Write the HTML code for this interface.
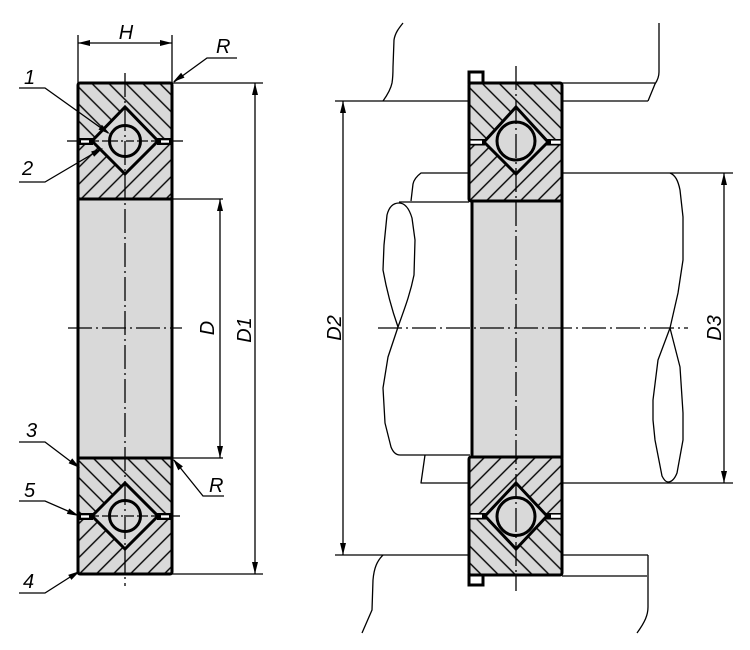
<!DOCTYPE html>
<html><head><meta charset="utf-8"><style>
html,body{margin:0;padding:0;background:#fff;}
svg{display:block;}
text{font-family:"Liberation Sans",sans-serif;font-style:italic;font-size:20px;fill:#000;}
</style></head><body>
<svg width="750" height="650" viewBox="0 0 750 650" xmlns="http://www.w3.org/2000/svg">
<defs>
<pattern id="hA" patternUnits="userSpaceOnUse" width="12" height="12" patternTransform="rotate(-45)"><line x1="6" y1="-1" x2="6" y2="13" stroke="#000" stroke-width="1.4"/></pattern>
<pattern id="hB" patternUnits="userSpaceOnUse" width="12" height="12" patternTransform="rotate(45)"><line x1="6" y1="-1" x2="6" y2="13" stroke="#000" stroke-width="1.4"/></pattern>
</defs>
<rect width="750" height="650" fill="#fff"/>

<!-- ============ LEFT VIEW ============ -->
<!-- bore -->
<rect x="78" y="199" width="94" height="259" fill="#d9d9d9" stroke="#000" stroke-width="3"/>
<!-- upper ring -->
<rect x="78" y="83" width="94" height="116" fill="#d9d9d9"/>
<polygon points="78,83 172,83 172,141 158,141 125,107 92,141 78,141" fill="url(#hA)"/>
<polygon points="78,141 92,141 125,174 158,141 172,141 172,199 78,199" fill="url(#hB)"/>
<rect x="78" y="138" width="15" height="7" fill="#000"/><rect x="81" y="140.3" width="8" height="2.4" fill="#fff"/>
<rect x="157" y="138" width="15" height="7" fill="#000"/><rect x="161" y="140.3" width="8" height="2.4" fill="#fff"/>
<polygon points="125,107 158,141 125,174 92,141" fill="#d9d9d9" stroke="#000" stroke-width="3" stroke-linejoin="miter"/>
<circle cx="125" cy="141" r="15.5" fill="#d9d9d9" stroke="#000" stroke-width="3"/>
<rect x="78" y="83" width="94" height="116" rx="2" fill="none" stroke="#000" stroke-width="3"/>
<!-- lower ring -->
<rect x="78" y="458" width="94" height="116" fill="#d9d9d9"/>
<polygon points="78,458 172,458 172,516 158,516 125,483 92,516 78,516" fill="url(#hA)"/>
<polygon points="78,516 92,516 125,549 158,516 172,516 172,574 78,574" fill="url(#hB)"/>
<rect x="78" y="513" width="15" height="7" fill="#000"/><rect x="81" y="515.3" width="8" height="2.4" fill="#fff"/>
<rect x="157" y="513" width="15" height="7" fill="#000"/><rect x="161" y="515.3" width="8" height="2.4" fill="#fff"/>
<polygon points="125,483 158,516 125,549 92,516" fill="#d9d9d9" stroke="#000" stroke-width="3"/>
<circle cx="125" cy="516" r="15.5" fill="#d9d9d9" stroke="#000" stroke-width="3"/>
<rect x="78" y="458" width="94" height="116" rx="2" fill="none" stroke="#000" stroke-width="3"/>

<!-- centre lines left -->
<g stroke="#000" stroke-width="1.3" fill="none" stroke-dasharray="24 4 2 4">
<line x1="125" y1="73" x2="125" y2="586"/>
<line x1="68" y1="328" x2="182" y2="328"/>
</g>
<g stroke="#000" stroke-width="1.3" fill="none">
<line x1="67" y1="141" x2="78" y2="141"/><line x1="172" y1="141" x2="183" y2="141"/>
<line x1="172" y1="516" x2="180" y2="516"/>
<line x1="93" y1="141" x2="108" y2="141" stroke-dasharray="6 3"/><line x1="142" y1="141" x2="157" y2="141" stroke-dasharray="6 3"/>
<line x1="93" y1="516" x2="108" y2="516" stroke-dasharray="6 3"/><line x1="142" y1="516" x2="157" y2="516" stroke-dasharray="6 3"/>
<line x1="110" y1="141" x2="140" y2="141" stroke-dasharray="8 3 2 3"/>
<line x1="110" y1="516" x2="140" y2="516" stroke-dasharray="8 3 2 3"/>
</g>

<!-- dimensions left -->
<g stroke="#000" stroke-width="1.3" fill="none">
<line x1="78" y1="35" x2="78" y2="83"/><line x1="172" y1="35" x2="172" y2="83"/>
<line x1="78" y1="43" x2="172" y2="43"/>
<line x1="172" y1="83" x2="263" y2="83"/><line x1="172" y1="574" x2="263" y2="574"/>
<line x1="255" y1="83" x2="255" y2="574"/>
<line x1="172" y1="199" x2="223" y2="199"/><line x1="172" y1="458" x2="223" y2="458"/>
<line x1="220" y1="199" x2="220" y2="458"/>
<!-- leaders -->
<polyline points="237,58 207,58 174,82"/>
<polyline points="19,88 45,88 108,133"/>
<polyline points="19,182 45,182 101,149"/>
<polyline points="19,442 45,442 78,467"/>
<polyline points="19,501 45,501 77,515"/>
<polyline points="19,593 45,593 78,572"/>
<polyline points="224,496 203,496 174,460"/>
</g>
<g fill="#000">
<polygon points="78,43 90,40 90,46"/><polygon points="172,43 160,40 160,46"/>
<polygon points="255,83 252,95 258,95"/><polygon points="255,574 252,562 258,562"/>
<polygon points="220,199 217,211 223,211"/><polygon points="220,458 217,446 223,446"/>
<polygon points="173,82 184.5,77.6 181.1,72.7"/>
<polygon points="110,134 98.5,129.6 101.9,124.7"/>
<polygon points="103,148 94.1,156.7 91.1,151.5"/>
<polygon points="80,468 68.6,463.2 72.2,458.4"/>
<polygon points="79,516 66.8,513.9 69.2,508.5"/>
<polygon points="80,571 71.4,579.9 68.2,574.9"/>
<polygon points="173,459 182.9,466.4 178.3,470.2"/>
</g>
<text x="126" y="39" text-anchor="middle">H</text>
<text x="216" y="53">R</text>
<text x="24" y="84">1</text>
<text x="22" y="175">2</text>
<text x="26" y="437">3</text>
<text x="24" y="497">5</text>
<text x="23" y="588">4</text>
<text x="209" y="492">R</text>
<text transform="translate(214,328) rotate(-90)" text-anchor="middle">D</text>
<text transform="translate(251,330) rotate(-90)" text-anchor="middle">D1</text>

<!-- ============ RIGHT VIEW ============ -->
<!-- housing / shaft thin lines -->
<g stroke="#000" stroke-width="1.3" fill="none" stroke-linejoin="round">
<line x1="335" y1="101" x2="469" y2="101"/>
<path d="M383,101 C388,94 391,88 392,83 C393,77 393,70 393,67 L394,40 C395,33 399,28 403,23"/>
<line x1="562" y1="83" x2="655" y2="83"/>
<line x1="562" y1="101" x2="648" y2="101"/>
<path d="M659,23 L659,72 C659,77 657,81 655,84 L648,101"/>
<path d="M469,173 L421,173 C417,176 414,179 413,184 L411,201"/>
<line x1="399" y1="202" x2="469" y2="202"/>
<path d="M399,203 C393,203 389,207 387,215 L384,245 L383,270 C387,292 392,310 398,327"/>
<path d="M399,203 C405,203 409,208 412,218 L415,240 L414,275 C410,295 404,310 398,327"/>
<path d="M398,327 L388,357 L383,388 L385,423 L391,447 C393,452 396,455 400,455 L470,455"/>
<path d="M425,455 L421,483 L470,483"/>
<line x1="562" y1="173" x2="733" y2="173"/>
<path d="M670,173 C675,175 678,180 680,190 L683,217 L683,260 L678,293 L670,328"/>
<path d="M670,328 L658,360 L653,400 L653,420 L655,440 L662,476 C664,480 666,482 668,482 C672,482 675,478 677,473 L683,440 L683,413 L680,367 L670,328"/>
<line x1="562" y1="483" x2="733" y2="483"/>
<line x1="335" y1="555" x2="469" y2="555"/>
<path d="M383,555 C377,561 374,568 373,580 L372,610 L362,633"/>
<line x1="562" y1="555" x2="648" y2="555"/>
<path d="M648,555 L648,607 C648,615 645,622 637,633"/>
<line x1="562" y1="576" x2="647" y2="576"/>
</g>

<!-- bore -->
<rect x="472" y="201" width="90" height="256" fill="#d9d9d9" stroke="#000" stroke-width="3"/>
<!-- upper ring -->
<rect x="469" y="72" width="14" height="11" fill="#fff" stroke="#000" stroke-width="3"/>
<rect x="469" y="83" width="93" height="118" fill="#d9d9d9"/>
<polygon points="469,83 562,83 562,142 548,142 516,107 484,142 469,142" fill="url(#hA)"/>
<polygon points="469,142 484,142 516,174 548,142 562,142 562,201 469,201" fill="url(#hB)"/>
<rect x="469" y="139" width="16" height="6.5" fill="#000"/><rect x="470" y="140.6" width="12" height="3.2" fill="#fff"/>
<rect x="546" y="139" width="16" height="6.5" fill="#000"/><rect x="551" y="140.6" width="10" height="3.2" fill="#fff"/>
<polygon points="516,107 548,142 516,174 484,142" fill="#d9d9d9" stroke="#000" stroke-width="3"/>
<circle cx="516" cy="141" r="19" fill="#d9d9d9" stroke="#000" stroke-width="3"/>
<rect x="469" y="83" width="93" height="118" rx="2" fill="none" stroke="#000" stroke-width="3"/>
<!-- lower ring -->
<rect x="469" y="575" width="14" height="10" fill="#fff" stroke="#000" stroke-width="3"/>
<rect x="469" y="457" width="93" height="118" fill="#d9d9d9"/>
<polygon points="469,457 562,457 562,516 547,516 516,483 485,516 469,516" fill="url(#hB)"/>
<polygon points="469,516 485,516 516,549 547,516 562,516 562,575 469,575" fill="url(#hA)"/>
<rect x="469" y="513" width="17" height="6.5" fill="#000"/><rect x="470" y="514.6" width="12" height="3.2" fill="#fff"/>
<rect x="545" y="513" width="17" height="6.5" fill="#000"/><rect x="551" y="514.6" width="10" height="3.2" fill="#fff"/>
<polygon points="516,483 547,516 516,549 485,516" fill="#d9d9d9" stroke="#000" stroke-width="3"/>
<circle cx="516" cy="516.5" r="19" fill="#d9d9d9" stroke="#000" stroke-width="3"/>
<rect x="469" y="457" width="93" height="118" rx="2" fill="none" stroke="#000" stroke-width="3"/>

<!-- centre lines right -->
<g stroke="#000" stroke-width="1.3" fill="none" stroke-dasharray="24 4 2 4">
<line x1="516" y1="66" x2="516" y2="591"/>
<line x1="378" y1="328" x2="688" y2="328"/>
</g>

<!-- dimensions right -->
<g stroke="#000" stroke-width="1.3" fill="none">
<line x1="343" y1="101" x2="343" y2="555"/>
<line x1="724" y1="173" x2="724" y2="483"/>
</g>
<g fill="#000">
<polygon points="343,101 340,113 346,113"/><polygon points="343,555 340,543 346,543"/>
<polygon points="724,173 721,185 727,185"/><polygon points="724,483 721,471 727,471"/>
</g>
<text transform="translate(341,328) rotate(-90)" text-anchor="middle">D2</text>
<text transform="translate(721,328) rotate(-90)" text-anchor="middle">D3</text>
</svg>
</body></html>
